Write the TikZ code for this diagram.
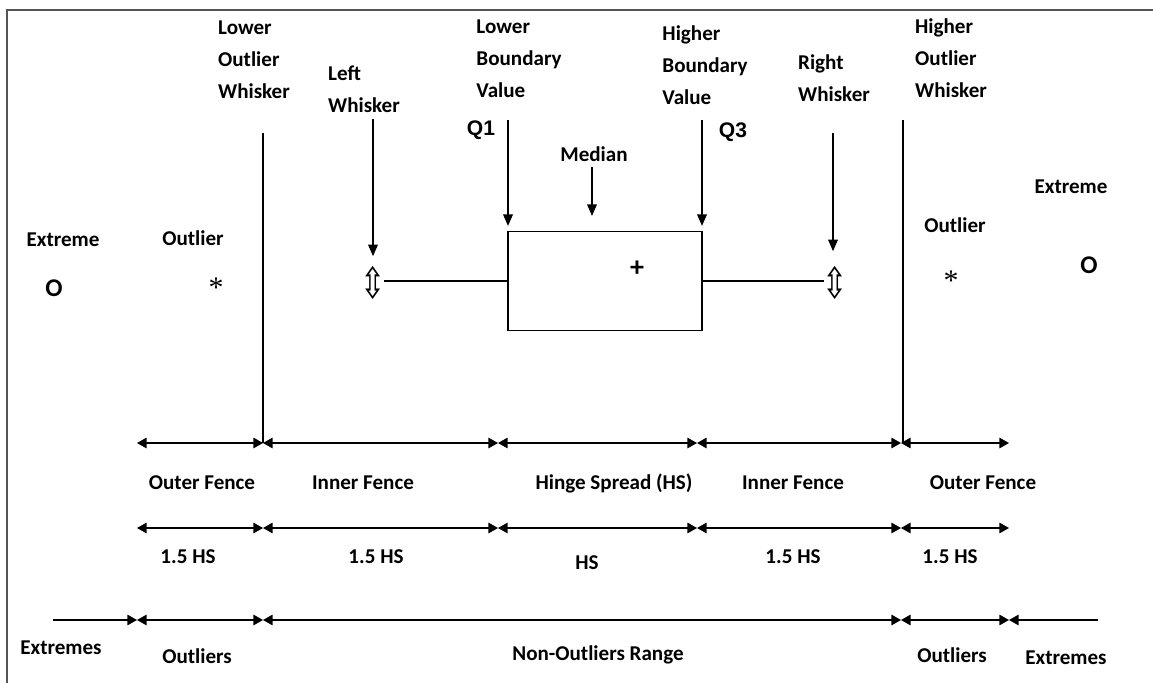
\documentclass[tikz,border=0pt]{standalone}
\usepackage{fontspec}
\setmainfont{Carlito}
\newfontfamily\symfont{DejaVu Sans}
\newfontfamily\qfont{Liberation Sans}
\newfontfamily\starfont{Liberation Serif}
\usetikzlibrary{arrows.meta,positioning}
\definecolor{framegray}{RGB}{85,85,85}
\tikzset{
	ftip/.tip={Triangle[length=5.5pt,width=6pt]},
	ptip/.tip={Triangle[length=6.5pt,width=5.5pt]}
}

\begin{document}
\begin{tikzpicture}[x=0.02cm,y=-0.02cm,
		lbl/.style={font=\fontsize{12}{18.2}\selectfont\bfseries,align=left,inner sep=0pt},
		qlbl/.style={font=\fontsize{12}{14}\selectfont\qfont\bfseries,inner sep=0pt},
		ptmark/.style={font=\fontsize{14.5}{15}\selectfont\bfseries,inner sep=0pt},
		starmark/.style={font=\fontsize{17}{17}\selectfont\starfont,inner sep=0pt},
		fence/.style={ftip-ftip,line width=0.8pt},
		pointer/.style={-ptip,line width=0.6pt},
		whisk/.style={font=\fontsize{18}{18}\selectfont\symfont,inner sep=-1.2pt}]
	\useasboundingbox (0,0) rectangle (1153,683);
	\draw[framegray,line width=1.2pt] (1153,10)--(7,10)--(7,683);
		\node[lbl] (lowtxt) at (254,60) {Lower\\Outlier\\Whisker};
		\node[lbl] (lefttxt) at (364,89) {Left\\Whisker};
		\node[lbl] (q1txt) at (519,59) {Lower\\Boundary\\Value};
		\node[lbl] (medtxt) at (594,154) {Median};
		\node[lbl] (q3txt) at (705,65) {Higher\\Boundary\\Value};
		\node[lbl] (rwtxt) at (834,78) {Right\\Whisker};
		\node[lbl] (hightxt) at (951,58) {Higher\\Outlier\\Whisker};
		\node[qlbl] (q1) at (481,130) {Q1};
		\node[qlbl] (q3) at (733,132) {Q3};
		\node[lbl] (extl) at (63,240) {Extreme};
		\node[ptmark] (extlo) at (54,288) {O};
		\node[lbl] (outl) at (193,238) {Outlier};
		\node[starmark] (outls) at (216,288) {*};
		\node[lbl] (extr) at (1071,187) {Extreme};
		\node[ptmark] (extro) at (1089,265) {O};
		\node[lbl] (outr) at (955,225) {Outlier};
		\node[starmark] (outrs) at (951,281) {*};
	\node[draw,line width=0.7pt,minimum width=3.88cm,minimum height=1.98cm,inner sep=0pt] (box) at (605,281) {};
	\node[lbl,font=\fontsize{16}{16}\selectfont\bfseries] (mean) at (637,269) {+};
	\node[whisk] (lw) at (373,283) {\scalebox{0.95}[1.35]{⇳}};
	\node[whisk] (rw) at (835,283) {\scalebox{0.95}[1.35]{⇳}};
		\draw[line width=0.6pt] (box.west)--(box.west -| lw.east);
		\draw[line width=0.6pt] (box.east)--(box.east -| rw.west);
	\coordinate (lwtop) at (373,119);
	\coordinate (q1top) at (508,120);
	\coordinate (medtop) at (592,167);
	\coordinate (q3top) at (702,120);
	\coordinate (rwtop) at (833,133);
		\draw[pointer,shorten >=0.24cm] (lwtop)--(lwtop |- lw.north);
		\draw[pointer,shorten >=0.1cm] (q1top)--(q1top |- box.north);
		\draw[pointer,shorten >=0.3cm] (medtop)--(medtop |- box.north);
		\draw[pointer,shorten >=0.1cm] (q3top)--(q3top |- box.north);
		\draw[pointer,shorten >=0.34cm] (rwtop)--(rwtop |- rw.north);
	\foreach \n/\x in {a/53,b/137,c/263,d/498,e/697,f/901,g/1009,h/1098}{
		\coordinate (\n1) at (\x,443);
		\coordinate (\n2) at (\x,528);
		\coordinate (\n3) at (\x,620);
	}
	\coordinate (lowend) at (263,133);
	\coordinate (highend) at (903,120);
		\draw[line width=0.6pt] (lowend)--(c1);
		\draw[line width=0.6pt] (highend)--(highend |- f1);
	\foreach \s/\t in {b/c,c/d,d/e,e/f,f/g}{
		\draw[fence] (\s1)--(\t1);
		\draw[fence] (\s2)--(\t2);
	}
	\foreach \s/\t in {b/c,c/f,f/g}
		\draw[fence] (\s3)--(\t3);
	\draw[-ftip,line width=0.8pt] (a3)--(b3);
	\draw[ftip-,line width=0.8pt] (g3)--(h3);
		\node[lbl] (of1) at (202,483) {Outer Fence};
		\node[lbl] (if1) at (363,483) {Inner Fence};
		\node[lbl] (hs1) at (614,483) {Hinge Spread (HS)};
		\node[lbl] (if2) at (793,483) {Inner Fence};
		\node[lbl] (of2) at (983,483) {Outer Fence};
		\node[lbl] (m1) at (188,557) {1.5 HS};
		\node[lbl] (m2) at (376,557) {1.5 HS};
		\node[lbl] (m3) at (587,563) {HS};
		\node[lbl] (m4) at (793,557) {1.5 HS};
		\node[lbl] (m5) at (950,557) {1.5 HS};
		\node[lbl] (ex1) at (61,648) {Extremes};
		\node[lbl] (ou1) at (197,656) {Outliers};
		\node[lbl] (nor) at (598,655) {Non-Outliers Range};
		\node[lbl] (ou2) at (952,655) {Outliers};
		\node[lbl] (ex2) at (1066,658) {Extremes};
\end{tikzpicture}
\end{document}
